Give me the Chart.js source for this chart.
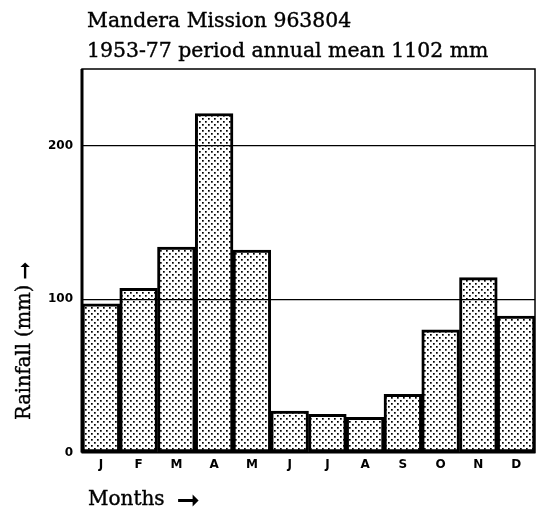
<!DOCTYPE html>
<html>
<head>
<meta charset="utf-8">
<script src="https://cdn.jsdelivr.net/npm/chart.js@4"></script>
<style>
    html, body { margin: 0; padding: 0; background: #fff; }
    #wrap { width: 536px; height: 514px; }
</style>
</head>
<body>
<div id="wrap"><canvas id="rainChart" width="536" height="514"></canvas></div>
<script>
// Monthly rainfall, Mandera Mission
const months = ['J', 'F', 'M', 'A', 'M', 'J', 'J', 'A', 'S', 'O', 'N', 'D'];
const rainfall = [97, 107, 134, 221, 132, 27, 25, 23, 38, 80, 114, 89];
const yTicks = [0, 100, 200];
const titleLines = ['Mandera Mission 963804', '1953-77 period annual mean 1102 mm'];
const yTitle = 'Rainfall (mm)';
const xTitle = 'Months';

const serif = '"DejaVu Serif"';

function makeStipple() {
    const c = document.createElement('canvas');
    c.width = 6;
    c.height = 6;
    const g = c.getContext('2d');
    g.fillStyle = '#fff';
    g.fillRect(0, 0, 6, 6);
    g.fillStyle = '#000';
    g.fillRect(1, 1, 1.7, 1.7);
    g.fillRect(4, 4, 1.7, 1.7);
    return g.createPattern(c, 'repeat');
}

// titles and axis labels, placed by hand like the printed figure
const textPlugin = {
    id: 'figureText',
    afterDraw(chart) {
        const ctx = chart.ctx;
        const a = chart.chartArea;
        ctx.save();
        ctx.fillStyle = '#000';
        ctx.strokeStyle = '#000';
        ctx.lineWidth = 0.4;
        ctx.textAlign = 'left';
        ctx.textBaseline = 'alphabetic';
        ctx.font = '20.4px ' + serif;
        ctx.fillText(titleLines[0], a.left + 5, 27);
        ctx.strokeText(titleLines[0], a.left + 5, 27);
        ctx.fillText(titleLines[1], a.left + 5, 57);
        ctx.strokeText(titleLines[1], a.left + 5, 57);

        // x axis label with arrow
        ctx.font = '20px ' + serif;
        ctx.fillText(xTitle, a.left + 6, 505);
        ctx.strokeText(xTitle, a.left + 6, 505);
        const w = ctx.measureText(xTitle).width;
        ctx.font = 'bold 28px "DejaVu Sans"';
        ctx.fillText('\u279E', a.left + 6 + w + 12, 509);

        // rotated y label with arrow
        ctx.translate(30, 420);
        ctx.rotate(-Math.PI / 2);
        ctx.font = '19.5px ' + serif;
        ctx.fillText(yTitle, 0, 0);
        ctx.strokeText(yTitle, 0, 0);
        const wy = ctx.measureText(yTitle).width;
        ctx.font = 'bold 22px "DejaVu Sans"';
        ctx.fillText('\u279E', wy + 5, 2);
        ctx.restore();
    }
};

// outer frame of the plot
const framePlugin = {
    id: 'frame',
    afterDatasetsDraw(chart) {
        const a = chart.chartArea;
        const ctx = chart.ctx;
        ctx.save();
        ctx.strokeStyle = '#000';
        ctx.lineWidth = 1.5;
        ctx.strokeRect(a.left, a.top, a.right - a.left, a.bottom - a.top);
        ctx.lineWidth = 3;
        ctx.beginPath();
        ctx.moveTo(a.left, a.top);
        ctx.lineTo(a.left, a.bottom);
        ctx.stroke();
        ctx.restore();
    }
};

document.addEventListener('DOMContentLoaded', function() {
    const ctx = document.getElementById('rainChart').getContext('2d');
    new Chart(ctx, {
        type: 'bar',
        data: {
            labels: months,
            datasets: [{
                data: rainfall,
                backgroundColor: makeStipple(),
                borderColor: '#000',
                borderWidth: 3,
                borderSkipped: false,
                categoryPercentage: 1.0,
                barPercentage: 1.0
            }]
        },
        options: {
            responsive: false,
            animation: false,
            layout: { padding: { left: 0, right: 1, top: 69, bottom: 37 } },
            plugins: {
                legend: { display: false },
                tooltip: { enabled: false },
                title: { display: false }
            },
            scales: {
                x: {
                    grid: { display: false, drawTicks: false },
                    border: { display: false },
                    ticks: {
                        color: '#000',
                        font: { family: '"DejaVu Sans"', size: 12, weight: 'bold' },
                        padding: 5
                    }
                },
                y: {
                    min: 0,
                    max: 250,
                    afterFit: function(scale) { scale.width = 82; },
                    afterBuildTicks: function(scale) {
                        scale.ticks = yTicks.map(v => ({ value: v }));
                    },
                    grid: {
                        color: '#000',
                        lineWidth: 1.2,
                        drawTicks: false,
                        z: 1
                    },
                    border: { display: false },
                    ticks: {
                        color: '#000',
                        font: { family: '"DejaVu Sans"', size: 12, weight: 'bold' },
                        padding: 9
                    }
                }
            }
        },
        plugins: [textPlugin, framePlugin]
    });
});
</script>
</body>
</html>
